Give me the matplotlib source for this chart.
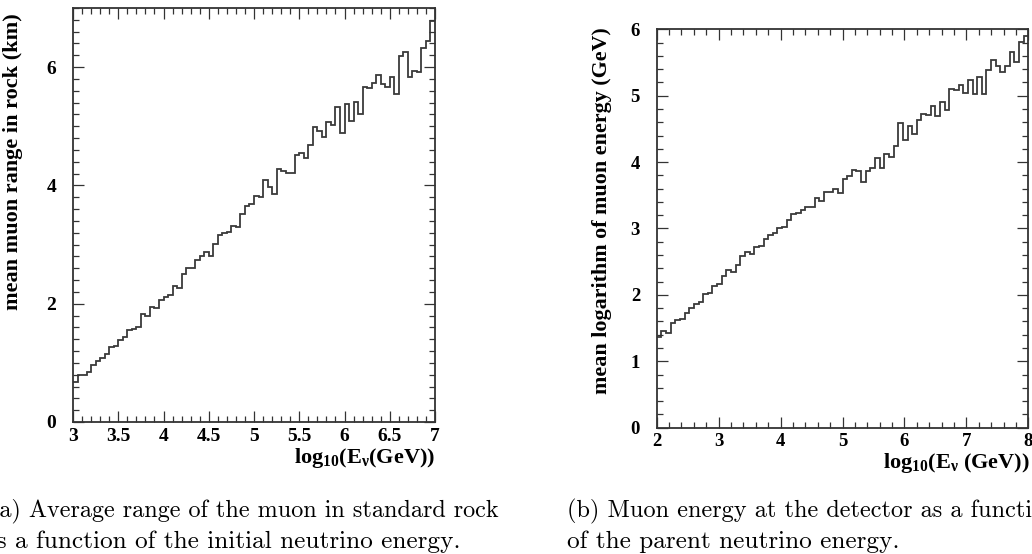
import numpy as np
import matplotlib
matplotlib.use("Agg")
import matplotlib.pyplot as plt
from matplotlib.ticker import MultipleLocator

plt.rcParams['mathtext.fontset'] = 'custom'
plt.rcParams['mathtext.rm'] = 'Liberation Serif:bold'
plt.rcParams['mathtext.it'] = 'Liberation Serif:bold'
plt.rcParams['mathtext.bf'] = 'Liberation Serif:bold'

# ---- panel (a): mean muon range in rock vs log10(E_nu) ----
a_range = (3.0, 7.0)
a_values = [0.68, 0.79, 0.80, 0.85, 0.96, 1.03, 1.09, 1.15, 1.27, 1.28,
            1.39, 1.43, 1.56, 1.58, 1.61, 1.83, 1.79, 1.94, 1.92, 2.06,
            2.11, 2.15, 2.30, 2.26, 2.51, 2.61, 2.61, 2.74, 2.80, 2.87,
            2.81, 3.01, 3.16, 3.20, 3.21, 3.32, 3.30, 3.51, 3.65, 3.69,
            3.82, 3.80, 4.09, 3.98, 3.86, 4.28, 4.24, 4.21, 4.21, 4.52,
            4.55, 4.47, 4.69, 4.99, 4.92, 4.82, 5.07, 5.03, 5.32, 4.88,
            5.37, 5.09, 5.41, 5.21, 5.66, 5.64, 5.74, 5.87, 5.71, 5.66,
            5.84, 5.55, 6.19, 6.26, 5.84, 5.94, 5.91, 6.33, 6.45, 6.78]
a_xticks = [3, 3.5, 4, 4.5, 5, 5.5, 6, 6.5, 7]
a_xticklabels = ["3", "3.5", "4", "4.5", "5", "5.5", "6", "6.5", "7"]
a_yticks = [0, 2, 4, 6]

# ---- panel (b): mean log10 muon energy vs log10(E_nu) ----
b_range = (2.0, 8.0)
b_values = [1.36, 1.46, 1.43, 1.57, 1.62, 1.64, 1.72, 1.80, 1.87, 1.90,
            2.01, 2.03, 2.13, 2.17, 2.28, 2.38, 2.35, 2.45, 2.58, 2.65,
            2.62, 2.72, 2.74, 2.84, 2.90, 2.93, 3.00, 3.03, 3.13, 3.22,
            3.23, 3.28, 3.33, 3.33, 3.46, 3.41, 3.55, 3.55, 3.60, 3.54,
            3.74, 3.79, 3.88, 3.86, 3.70, 3.86, 3.91, 4.06, 3.91, 4.12,
            4.08, 4.24, 4.59, 4.33, 4.54, 4.43, 4.63, 4.73, 4.71, 4.84,
            4.69, 4.91, 4.78, 5.10, 5.08, 5.16, 5.04, 5.24, 5.03, 5.28,
            5.03, 5.39, 5.54, 5.44, 5.35, 5.44, 5.66, 5.50, 5.81, 5.90]
b_xticks = [2, 3, 4, 5, 6, 7, 8]
b_yticks = [0, 1, 2, 3, 4, 5, 6]

W, H = 1032, 554
fig = plt.figure(figsize=(W / 100, H / 100), dpi=100)

def px_axes(x0, y0, x1, y1):
    return fig.add_axes([x0 / W, 1 - y1 / H, (x1 - x0) / W, (y1 - y0) / H])

serif = 'Liberation Serif'
line_col = '#3a3a3a'

def style(ax, xminor, yminor, tsize):
    ax.xaxis.set_minor_locator(MultipleLocator(xminor))
    ax.yaxis.set_minor_locator(MultipleLocator(yminor))
    ax.tick_params(which='both', direction='in', top=True, right=True,
                   colors='#333333', width=0.9)
    ax.tick_params(which='major', length=8)
    ax.tick_params(which='minor', length=4)
    ax.tick_params(axis='x', which='major', pad=4)
    ax.tick_params(axis='y', which='major', pad=12)
    for lab in ax.get_xticklabels() + ax.get_yticklabels():
        lab.set_fontfamily(serif)
        lab.set_fontweight('bold')
        lab.set_fontsize(tsize)
        lab.set_color('black')
    for s in ax.spines.values():
        s.set_linewidth(1.3)
        s.set_color('#333333')

# panel (a)
ax1 = px_axes(73, 8, 435, 422)
edges_a = np.linspace(a_range[0], a_range[1], len(a_values) + 1)
ax1.stairs(a_values, edges_a, baseline=None, color=line_col, linewidth=1.3)
ax1.set_xlim(*a_range)
ax1.set_ylim(0, 7)
ax1.set_xticks(a_xticks)
ax1.set_xticklabels(a_xticklabels)
ax1.set_yticks(a_yticks)
style(ax1, 0.1, 0.2, 14)
ax1.set_ylabel("mean muon range in rock (km)", fontfamily=serif,
               fontweight='bold', fontsize=16)
ax1.yaxis.set_label_coords(-0.138, 0.63)
ax1.set_xlabel(r"log$_{10}$(E$_{\nu}$(GeV))", fontfamily=serif,
               fontweight='bold', fontsize=16, ha='right')
ax1.xaxis.set_label_coords(1.0, -0.058)

# panel (b)
ax2 = px_axes(656.7, 29.3, 1028.3, 427.7)
edges_b = np.linspace(b_range[0], b_range[1], len(b_values) + 1)
ax2.stairs(b_values, edges_b, baseline=None, color=line_col, linewidth=1.3)
ax2.set_xlim(*b_range)
ax2.set_ylim(0, 6)
ax2.set_xticks(b_xticks)
ax2.set_yticks(b_yticks)
style(ax2, 0.2, 0.2, 13.5)
ax2.set_ylabel("mean logarithm of muon energy (GeV)", fontfamily=serif,
               fontweight='bold', fontsize=15.8)
ax2.yaxis.set_label_coords(-0.12, 0.545)
ax2.set_xlabel(r"log$_{10}$(E$_{\nu}$ (GeV))", fontfamily=serif,
               fontweight='bold', fontsize=16, ha='right')
ax2.xaxis.set_label_coords(1.005, -0.058)

# captions
cap_kw = dict(fontfamily='cmr10', color='black', va='baseline')
fig.text(-10 / W, 1 - 517 / H, "(a) Average range of the muon in standard rock",
         fontsize=17.4, **cap_kw)
fig.text(-16 / W, 1 - 548 / H, "as a function of the initial neutrino energy.",
         fontsize=18.2, **cap_kw)
fig.text(567 / W, 1 - 517 / H, "(b) Muon energy at the detector as a function",
         fontsize=17.5, **cap_kw)
fig.text(567 / W, 1 - 548 / H, "of the parent neutrino energy.",
         fontsize=18.2, **cap_kw)

fig.savefig("out.png", dpi=100)
